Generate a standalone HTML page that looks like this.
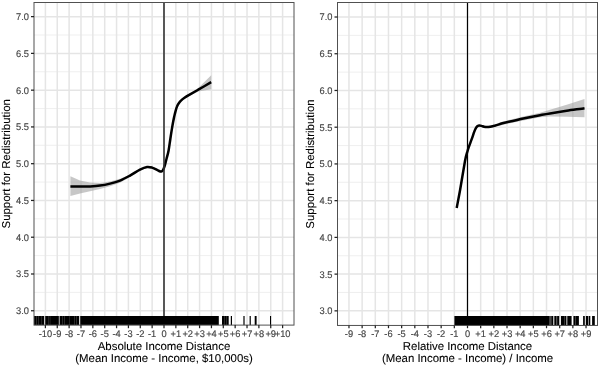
<!DOCTYPE html><html><head><meta charset="utf-8"><title>Income distance</title><style>html,body{margin:0;padding:0;background:#fff}svg{display:block}text{text-rendering:geometricPrecision}</style></head><body><svg width="600" height="367" viewBox="0 0 600 367" font-family="'Liberation Sans', Arial, sans-serif">
<rect width="600" height="367" fill="#fff"/>
<line x1="34.0" x2="294.0" y1="292.37" y2="292.37" stroke="#ebebeb" stroke-width="0.8"/>
<line x1="34.0" x2="294.0" y1="255.60" y2="255.60" stroke="#ebebeb" stroke-width="0.8"/>
<line x1="34.0" x2="294.0" y1="218.84" y2="218.84" stroke="#ebebeb" stroke-width="0.8"/>
<line x1="34.0" x2="294.0" y1="182.07" y2="182.07" stroke="#ebebeb" stroke-width="0.8"/>
<line x1="34.0" x2="294.0" y1="145.31" y2="145.31" stroke="#ebebeb" stroke-width="0.8"/>
<line x1="34.0" x2="294.0" y1="108.54" y2="108.54" stroke="#ebebeb" stroke-width="0.8"/>
<line x1="34.0" x2="294.0" y1="71.78" y2="71.78" stroke="#ebebeb" stroke-width="0.8"/>
<line x1="34.0" x2="294.0" y1="35.01" y2="35.01" stroke="#ebebeb" stroke-width="0.8"/>
<line x1="34.0" x2="294.0" y1="310.75" y2="310.75" stroke="#e5e5e5" stroke-width="1.5"/>
<line x1="34.0" x2="294.0" y1="273.99" y2="273.99" stroke="#e5e5e5" stroke-width="1.5"/>
<line x1="34.0" x2="294.0" y1="237.22" y2="237.22" stroke="#e5e5e5" stroke-width="1.5"/>
<line x1="34.0" x2="294.0" y1="200.45" y2="200.45" stroke="#e5e5e5" stroke-width="1.5"/>
<line x1="34.0" x2="294.0" y1="163.69" y2="163.69" stroke="#e5e5e5" stroke-width="1.5"/>
<line x1="34.0" x2="294.0" y1="126.93" y2="126.93" stroke="#e5e5e5" stroke-width="1.5"/>
<line x1="34.0" x2="294.0" y1="90.16" y2="90.16" stroke="#e5e5e5" stroke-width="1.5"/>
<line x1="34.0" x2="294.0" y1="53.39" y2="53.39" stroke="#e5e5e5" stroke-width="1.5"/>
<line x1="34.0" x2="294.0" y1="16.63" y2="16.63" stroke="#e5e5e5" stroke-width="1.5"/>
<line x1="45.40" x2="45.40" y1="2.5" y2="325.1" stroke="#e5e5e5" stroke-width="1.5"/>
<line x1="57.26" x2="57.26" y1="2.5" y2="325.1" stroke="#e5e5e5" stroke-width="1.5"/>
<line x1="69.12" x2="69.12" y1="2.5" y2="325.1" stroke="#e5e5e5" stroke-width="1.5"/>
<line x1="80.98" x2="80.98" y1="2.5" y2="325.1" stroke="#e5e5e5" stroke-width="1.5"/>
<line x1="92.84" x2="92.84" y1="2.5" y2="325.1" stroke="#e5e5e5" stroke-width="1.5"/>
<line x1="104.70" x2="104.70" y1="2.5" y2="325.1" stroke="#e5e5e5" stroke-width="1.5"/>
<line x1="116.56" x2="116.56" y1="2.5" y2="325.1" stroke="#e5e5e5" stroke-width="1.5"/>
<line x1="128.42" x2="128.42" y1="2.5" y2="325.1" stroke="#e5e5e5" stroke-width="1.5"/>
<line x1="140.28" x2="140.28" y1="2.5" y2="325.1" stroke="#e5e5e5" stroke-width="1.5"/>
<line x1="152.14" x2="152.14" y1="2.5" y2="325.1" stroke="#e5e5e5" stroke-width="1.5"/>
<line x1="164.00" x2="164.00" y1="2.5" y2="325.1" stroke="#e5e5e5" stroke-width="1.5"/>
<line x1="175.86" x2="175.86" y1="2.5" y2="325.1" stroke="#e5e5e5" stroke-width="1.5"/>
<line x1="187.72" x2="187.72" y1="2.5" y2="325.1" stroke="#e5e5e5" stroke-width="1.5"/>
<line x1="199.58" x2="199.58" y1="2.5" y2="325.1" stroke="#e5e5e5" stroke-width="1.5"/>
<line x1="211.44" x2="211.44" y1="2.5" y2="325.1" stroke="#e5e5e5" stroke-width="1.5"/>
<line x1="223.30" x2="223.30" y1="2.5" y2="325.1" stroke="#e5e5e5" stroke-width="1.5"/>
<line x1="235.16" x2="235.16" y1="2.5" y2="325.1" stroke="#e5e5e5" stroke-width="1.5"/>
<line x1="247.02" x2="247.02" y1="2.5" y2="325.1" stroke="#e5e5e5" stroke-width="1.5"/>
<line x1="258.88" x2="258.88" y1="2.5" y2="325.1" stroke="#e5e5e5" stroke-width="1.5"/>
<line x1="270.74" x2="270.74" y1="2.5" y2="325.1" stroke="#e5e5e5" stroke-width="1.5"/>
<line x1="282.60" x2="282.60" y1="2.5" y2="325.1" stroke="#e5e5e5" stroke-width="1.5"/>
<path d="M70.4,176.2 L80.0,180.4 L90.0,182.5 L100.0,182.9 L110.0,181.5 L120.0,178.8 L130.0,174.4 L140.0,168.6 L147.0,166.0 L152.0,166.6 L157.0,168.8 L159.5,170.2 L161.2,170.6 L162.8,169.4 L164.6,165.2 L166.6,157.5 L168.6,149.5 L170.4,137.5 L172.2,126.1 L174.0,116.6 L175.5,110.3 L177.0,105.6 L178.8,102.2 L181.2,99.4 L184.5,96.8 L188.3,94.4 L198.3,88.0 L211.2,75.3 L211.2,89.2 L198.3,91.4 L188.3,96.4 L184.5,98.8 L181.2,101.4 L178.8,104.2 L177.0,107.6 L175.5,112.3 L174.0,118.6 L172.2,128.1 L170.4,139.5 L168.6,151.5 L166.6,159.5 L164.6,167.2 L162.8,171.4 L161.2,172.6 L159.5,172.2 L157.0,170.8 L152.0,168.6 L147.0,168.0 L140.0,170.6 L130.0,176.9 L120.0,182.7 L110.0,186.2 L100.0,189.0 L90.0,191.3 L80.0,193.4 L70.4,196.0 Z" fill="#999" fill-opacity="0.55"/>
<path d="M70.4,186.4C72.0,186.4 76.7,186.6 80.0,186.6C83.3,186.6 86.7,186.7 90.0,186.5C93.3,186.3 96.7,186.1 100.0,185.6C103.3,185.1 106.7,184.4 110.0,183.6C113.3,182.8 116.7,181.9 120.0,180.6C123.3,179.3 126.7,177.4 130.0,175.6C133.3,173.8 137.2,171.0 140.0,169.6C142.8,168.2 145.0,167.3 147.0,167.0C149.0,166.7 150.3,167.1 152.0,167.6C153.7,168.1 155.8,169.2 157.0,169.8C158.2,170.4 158.8,170.9 159.5,171.2C160.2,171.5 160.6,171.7 161.2,171.6C161.8,171.5 162.2,171.3 162.8,170.4C163.4,169.5 164.0,168.2 164.6,166.2C165.2,164.2 165.9,161.1 166.6,158.5C167.3,155.9 168.0,153.8 168.6,150.5C169.2,147.2 169.8,142.4 170.4,138.5C171.0,134.6 171.6,130.6 172.2,127.1C172.8,123.6 173.4,120.2 174.0,117.6C174.6,115.0 175.0,113.1 175.5,111.3C176.0,109.5 176.4,107.9 177.0,106.6C177.6,105.2 178.1,104.2 178.8,103.2C179.5,102.2 180.2,101.3 181.2,100.4C182.1,99.5 183.3,98.6 184.5,97.8C185.7,97.0 186.0,96.8 188.3,95.4C190.6,94.1 194.5,91.9 198.3,89.7C202.1,87.5 209.0,83.5 211.2,82.2" fill="none" stroke="#000" stroke-width="2.5" stroke-linecap="butt" stroke-linejoin="round"/>
<line x1="164.00" x2="164.00" y1="2.5" y2="325.1" stroke="#333" stroke-width="1.6"/>
<rect x="34.00" y="316.0" width="184.80" height="9.10" fill="#000"/>
<rect x="222.00" y="316.0" width="6.70" height="9.10" fill="#000"/>
<rect x="224.00" y="316.0" width="0.50" height="9.10" fill="#555"/>
<rect x="226.50" y="316.0" width="0.50" height="9.10" fill="#555"/>
<rect x="230.80" y="316.0" width="1.20" height="9.10" fill="#000"/>
<rect x="243.40" y="316.0" width="1.20" height="9.10" fill="#000"/>
<rect x="249.60" y="316.0" width="1.20" height="9.10" fill="#000"/>
<rect x="254.70" y="316.0" width="1.90" height="9.10" fill="#000"/>
<rect x="270.00" y="316.0" width="1.10" height="9.10" fill="#000"/>
<rect x="44.20" y="316.0" width="1.00" height="9.10" fill="#eee"/>
<rect x="58.80" y="316.0" width="0.90" height="9.10" fill="#ccc"/>
<rect x="79.20" y="316.0" width="1.00" height="9.10" fill="#fff"/>
<rect x="36.50" y="316.0" width="0.50" height="9.10" fill="#555"/>
<rect x="38.10" y="316.0" width="0.50" height="9.10" fill="#555"/>
<rect x="41.10" y="316.0" width="0.50" height="9.10" fill="#444"/>
<rect x="48.10" y="316.0" width="0.50" height="9.10" fill="#444"/>
<rect x="49.80" y="316.0" width="0.50" height="9.10" fill="#444"/>
<rect x="62.30" y="316.0" width="0.50" height="9.10" fill="#555"/>
<rect x="64.00" y="316.0" width="0.50" height="9.10" fill="#555"/>
<rect x="69.00" y="316.0" width="0.50" height="9.10" fill="#444"/>
<rect x="74.50" y="316.0" width="0.50" height="9.10" fill="#555"/>
<rect x="76.50" y="316.0" width="0.50" height="9.10" fill="#555"/>
<rect x="34.0" y="2.5" width="260.0" height="322.6" fill="none" stroke="#505050" stroke-width="1.0"/>
<line x1="31.00" x2="34.00" y1="310.75" y2="310.75" stroke="#222" stroke-width="1.25"/>
<text transform="translate(28.90,314.15) scale(1,1.04)" font-size="9.3" fill="#444" stroke="#444" stroke-width="0.15" text-anchor="end">3.0</text>
<line x1="31.00" x2="34.00" y1="273.99" y2="273.99" stroke="#222" stroke-width="1.25"/>
<text transform="translate(28.90,277.38) scale(1,1.04)" font-size="9.3" fill="#444" stroke="#444" stroke-width="0.15" text-anchor="end">3.5</text>
<line x1="31.00" x2="34.00" y1="237.22" y2="237.22" stroke="#222" stroke-width="1.25"/>
<text transform="translate(28.90,240.62) scale(1,1.04)" font-size="9.3" fill="#444" stroke="#444" stroke-width="0.15" text-anchor="end">4.0</text>
<line x1="31.00" x2="34.00" y1="200.45" y2="200.45" stroke="#222" stroke-width="1.25"/>
<text transform="translate(28.90,203.85) scale(1,1.04)" font-size="9.3" fill="#444" stroke="#444" stroke-width="0.15" text-anchor="end">4.5</text>
<line x1="31.00" x2="34.00" y1="163.69" y2="163.69" stroke="#222" stroke-width="1.25"/>
<text transform="translate(28.90,167.09) scale(1,1.04)" font-size="9.3" fill="#444" stroke="#444" stroke-width="0.15" text-anchor="end">5.0</text>
<line x1="31.00" x2="34.00" y1="126.93" y2="126.93" stroke="#222" stroke-width="1.25"/>
<text transform="translate(28.90,130.33) scale(1,1.04)" font-size="9.3" fill="#444" stroke="#444" stroke-width="0.15" text-anchor="end">5.5</text>
<line x1="31.00" x2="34.00" y1="90.16" y2="90.16" stroke="#222" stroke-width="1.25"/>
<text transform="translate(28.90,93.56) scale(1,1.04)" font-size="9.3" fill="#444" stroke="#444" stroke-width="0.15" text-anchor="end">6.0</text>
<line x1="31.00" x2="34.00" y1="53.39" y2="53.39" stroke="#222" stroke-width="1.25"/>
<text transform="translate(28.90,56.79) scale(1,1.04)" font-size="9.3" fill="#444" stroke="#444" stroke-width="0.15" text-anchor="end">6.5</text>
<line x1="31.00" x2="34.00" y1="16.63" y2="16.63" stroke="#222" stroke-width="1.25"/>
<text transform="translate(28.90,20.03) scale(1,1.04)" font-size="9.3" fill="#444" stroke="#444" stroke-width="0.15" text-anchor="end">7.0</text>
<line x1="45.40" x2="45.40" y1="325.1" y2="328.2" stroke="#222" stroke-width="1.25"/>
<text transform="translate(45.40,337.4) scale(1,1.03)" font-size="9.3" fill="#444" stroke="#444" stroke-width="0.15" text-anchor="middle">-10</text>
<line x1="57.26" x2="57.26" y1="325.1" y2="328.2" stroke="#222" stroke-width="1.25"/>
<text transform="translate(57.26,337.4) scale(1,1.03)" font-size="9.3" fill="#444" stroke="#444" stroke-width="0.15" text-anchor="middle">-9</text>
<line x1="69.12" x2="69.12" y1="325.1" y2="328.2" stroke="#222" stroke-width="1.25"/>
<text transform="translate(69.12,337.4) scale(1,1.03)" font-size="9.3" fill="#444" stroke="#444" stroke-width="0.15" text-anchor="middle">-8</text>
<line x1="80.98" x2="80.98" y1="325.1" y2="328.2" stroke="#222" stroke-width="1.25"/>
<text transform="translate(80.98,337.4) scale(1,1.03)" font-size="9.3" fill="#444" stroke="#444" stroke-width="0.15" text-anchor="middle">-7</text>
<line x1="92.84" x2="92.84" y1="325.1" y2="328.2" stroke="#222" stroke-width="1.25"/>
<text transform="translate(92.84,337.4) scale(1,1.03)" font-size="9.3" fill="#444" stroke="#444" stroke-width="0.15" text-anchor="middle">-6</text>
<line x1="104.70" x2="104.70" y1="325.1" y2="328.2" stroke="#222" stroke-width="1.25"/>
<text transform="translate(104.70,337.4) scale(1,1.03)" font-size="9.3" fill="#444" stroke="#444" stroke-width="0.15" text-anchor="middle">-5</text>
<line x1="116.56" x2="116.56" y1="325.1" y2="328.2" stroke="#222" stroke-width="1.25"/>
<text transform="translate(116.56,337.4) scale(1,1.03)" font-size="9.3" fill="#444" stroke="#444" stroke-width="0.15" text-anchor="middle">-4</text>
<line x1="128.42" x2="128.42" y1="325.1" y2="328.2" stroke="#222" stroke-width="1.25"/>
<text transform="translate(128.42,337.4) scale(1,1.03)" font-size="9.3" fill="#444" stroke="#444" stroke-width="0.15" text-anchor="middle">-3</text>
<line x1="140.28" x2="140.28" y1="325.1" y2="328.2" stroke="#222" stroke-width="1.25"/>
<text transform="translate(140.28,337.4) scale(1,1.03)" font-size="9.3" fill="#444" stroke="#444" stroke-width="0.15" text-anchor="middle">-2</text>
<line x1="152.14" x2="152.14" y1="325.1" y2="328.2" stroke="#222" stroke-width="1.25"/>
<text transform="translate(152.14,337.4) scale(1,1.03)" font-size="9.3" fill="#444" stroke="#444" stroke-width="0.15" text-anchor="middle">-1</text>
<line x1="164.00" x2="164.00" y1="325.1" y2="328.2" stroke="#222" stroke-width="1.25"/>
<text transform="translate(164.00,337.4) scale(1,1.03)" font-size="9.3" fill="#444" stroke="#444" stroke-width="0.15" text-anchor="middle">0</text>
<line x1="175.86" x2="175.86" y1="325.1" y2="328.2" stroke="#222" stroke-width="1.25"/>
<text transform="translate(175.86,337.4) scale(1,1.03)" font-size="9.3" fill="#444" stroke="#444" stroke-width="0.15" text-anchor="middle">+1</text>
<line x1="187.72" x2="187.72" y1="325.1" y2="328.2" stroke="#222" stroke-width="1.25"/>
<text transform="translate(187.72,337.4) scale(1,1.03)" font-size="9.3" fill="#444" stroke="#444" stroke-width="0.15" text-anchor="middle">+2</text>
<line x1="199.58" x2="199.58" y1="325.1" y2="328.2" stroke="#222" stroke-width="1.25"/>
<text transform="translate(199.58,337.4) scale(1,1.03)" font-size="9.3" fill="#444" stroke="#444" stroke-width="0.15" text-anchor="middle">+3</text>
<line x1="211.44" x2="211.44" y1="325.1" y2="328.2" stroke="#222" stroke-width="1.25"/>
<text transform="translate(211.44,337.4) scale(1,1.03)" font-size="9.3" fill="#444" stroke="#444" stroke-width="0.15" text-anchor="middle">+4</text>
<line x1="223.30" x2="223.30" y1="325.1" y2="328.2" stroke="#222" stroke-width="1.25"/>
<text transform="translate(223.30,337.4) scale(1,1.03)" font-size="9.3" fill="#444" stroke="#444" stroke-width="0.15" text-anchor="middle">+5</text>
<line x1="235.16" x2="235.16" y1="325.1" y2="328.2" stroke="#222" stroke-width="1.25"/>
<text transform="translate(235.16,337.4) scale(1,1.03)" font-size="9.3" fill="#444" stroke="#444" stroke-width="0.15" text-anchor="middle">+6</text>
<line x1="247.02" x2="247.02" y1="325.1" y2="328.2" stroke="#222" stroke-width="1.25"/>
<text transform="translate(247.02,337.4) scale(1,1.03)" font-size="9.3" fill="#444" stroke="#444" stroke-width="0.15" text-anchor="middle">+7</text>
<line x1="258.88" x2="258.88" y1="325.1" y2="328.2" stroke="#222" stroke-width="1.25"/>
<text transform="translate(258.88,337.4) scale(1,1.03)" font-size="9.3" fill="#444" stroke="#444" stroke-width="0.15" text-anchor="middle">+8</text>
<line x1="270.74" x2="270.74" y1="325.1" y2="328.2" stroke="#222" stroke-width="1.25"/>
<text transform="translate(270.74,337.4) scale(1,1.03)" font-size="9.3" fill="#444" stroke="#444" stroke-width="0.15" text-anchor="middle">+9</text>
<line x1="282.60" x2="282.60" y1="325.1" y2="328.2" stroke="#222" stroke-width="1.25"/>
<text transform="translate(282.60,337.4) scale(1,1.03)" font-size="9.3" fill="#444" stroke="#444" stroke-width="0.15" text-anchor="middle">+10</text>
<text x="164.00" y="350.0" font-size="11.42" fill="#000" stroke="#000" stroke-width="0.08" text-anchor="middle">Absolute Income Distance</text>
<text x="164.00" y="362.35" font-size="11.42" fill="#000" stroke="#000" stroke-width="0.08" text-anchor="middle">(Mean Income - Income, $10,000s)</text>
<text transform="translate(10.20,163.80) rotate(-90)" font-size="11.42" fill="#000" stroke="#000" stroke-width="0.08" text-anchor="middle">Support for Redistribution</text>
<line x1="337.5" x2="597.5" y1="292.49" y2="292.49" stroke="#ebebeb" stroke-width="0.8"/>
<line x1="337.5" x2="597.5" y1="255.76" y2="255.76" stroke="#ebebeb" stroke-width="0.8"/>
<line x1="337.5" x2="597.5" y1="219.03" y2="219.03" stroke="#ebebeb" stroke-width="0.8"/>
<line x1="337.5" x2="597.5" y1="182.30" y2="182.30" stroke="#ebebeb" stroke-width="0.8"/>
<line x1="337.5" x2="597.5" y1="145.57" y2="145.57" stroke="#ebebeb" stroke-width="0.8"/>
<line x1="337.5" x2="597.5" y1="108.84" y2="108.84" stroke="#ebebeb" stroke-width="0.8"/>
<line x1="337.5" x2="597.5" y1="72.11" y2="72.11" stroke="#ebebeb" stroke-width="0.8"/>
<line x1="337.5" x2="597.5" y1="35.38" y2="35.38" stroke="#ebebeb" stroke-width="0.8"/>
<line x1="337.5" x2="597.5" y1="310.85" y2="310.85" stroke="#e5e5e5" stroke-width="1.5"/>
<line x1="337.5" x2="597.5" y1="274.12" y2="274.12" stroke="#e5e5e5" stroke-width="1.5"/>
<line x1="337.5" x2="597.5" y1="237.39" y2="237.39" stroke="#e5e5e5" stroke-width="1.5"/>
<line x1="337.5" x2="597.5" y1="200.66" y2="200.66" stroke="#e5e5e5" stroke-width="1.5"/>
<line x1="337.5" x2="597.5" y1="163.93" y2="163.93" stroke="#e5e5e5" stroke-width="1.5"/>
<line x1="337.5" x2="597.5" y1="127.20" y2="127.20" stroke="#e5e5e5" stroke-width="1.5"/>
<line x1="337.5" x2="597.5" y1="90.47" y2="90.47" stroke="#e5e5e5" stroke-width="1.5"/>
<line x1="337.5" x2="597.5" y1="53.74" y2="53.74" stroke="#e5e5e5" stroke-width="1.5"/>
<line x1="337.5" x2="597.5" y1="17.01" y2="17.01" stroke="#e5e5e5" stroke-width="1.5"/>
<line x1="348.97" x2="348.97" y1="2.5" y2="325.45" stroke="#e5e5e5" stroke-width="1.5"/>
<line x1="362.14" x2="362.14" y1="2.5" y2="325.45" stroke="#e5e5e5" stroke-width="1.5"/>
<line x1="375.31" x2="375.31" y1="2.5" y2="325.45" stroke="#e5e5e5" stroke-width="1.5"/>
<line x1="388.48" x2="388.48" y1="2.5" y2="325.45" stroke="#e5e5e5" stroke-width="1.5"/>
<line x1="401.65" x2="401.65" y1="2.5" y2="325.45" stroke="#e5e5e5" stroke-width="1.5"/>
<line x1="414.82" x2="414.82" y1="2.5" y2="325.45" stroke="#e5e5e5" stroke-width="1.5"/>
<line x1="427.99" x2="427.99" y1="2.5" y2="325.45" stroke="#e5e5e5" stroke-width="1.5"/>
<line x1="441.16" x2="441.16" y1="2.5" y2="325.45" stroke="#e5e5e5" stroke-width="1.5"/>
<line x1="454.33" x2="454.33" y1="2.5" y2="325.45" stroke="#e5e5e5" stroke-width="1.5"/>
<line x1="467.50" x2="467.50" y1="2.5" y2="325.45" stroke="#e5e5e5" stroke-width="1.5"/>
<line x1="480.67" x2="480.67" y1="2.5" y2="325.45" stroke="#e5e5e5" stroke-width="1.5"/>
<line x1="493.84" x2="493.84" y1="2.5" y2="325.45" stroke="#e5e5e5" stroke-width="1.5"/>
<line x1="507.01" x2="507.01" y1="2.5" y2="325.45" stroke="#e5e5e5" stroke-width="1.5"/>
<line x1="520.18" x2="520.18" y1="2.5" y2="325.45" stroke="#e5e5e5" stroke-width="1.5"/>
<line x1="533.35" x2="533.35" y1="2.5" y2="325.45" stroke="#e5e5e5" stroke-width="1.5"/>
<line x1="546.52" x2="546.52" y1="2.5" y2="325.45" stroke="#e5e5e5" stroke-width="1.5"/>
<line x1="559.69" x2="559.69" y1="2.5" y2="325.45" stroke="#e5e5e5" stroke-width="1.5"/>
<line x1="572.86" x2="572.86" y1="2.5" y2="325.45" stroke="#e5e5e5" stroke-width="1.5"/>
<line x1="586.03" x2="586.03" y1="2.5" y2="325.45" stroke="#e5e5e5" stroke-width="1.5"/>
<path d="M456.7,207.0 L460.0,189.5 L465.0,160.0 L467.5,150.2 L468.8,146.0 L471.7,138.2 L474.2,130.9 L476.0,126.8 L477.6,125.0 L479.3,124.5 L481.5,124.9 L484.0,125.7 L486.8,126.1 L490.3,125.7 L495.4,124.2 L502.4,121.8 L510.0,119.8 L523.3,116.6 L540.0,112.7 L550.0,109.8 L566.7,104.7 L584.5,99.0 L584.5,117.3 L566.7,116.7 L550.0,116.6 L540.0,117.3 L523.3,120.4 L510.0,123.3 L502.4,124.9 L495.4,126.7 L490.3,127.7 L486.8,128.1 L484.0,127.7 L481.5,126.9 L479.3,126.5 L477.6,127.0 L476.0,128.8 L474.2,132.9 L471.7,140.2 L468.8,148.0 L467.5,152.2 L465.0,162.0 L460.0,191.5 L456.7,209.0 Z" fill="#999" fill-opacity="0.55"/>
<path d="M456.7,208.0C457.2,205.1 458.6,198.3 460.0,190.5C461.4,182.7 463.8,167.6 465.0,161.0C466.2,154.4 466.9,153.5 467.5,151.2C468.1,148.9 468.1,149.0 468.8,147.0C469.5,145.0 470.8,141.7 471.7,139.2C472.6,136.7 473.5,133.8 474.2,131.9C474.9,130.0 475.4,128.8 476.0,127.8C476.6,126.8 477.1,126.4 477.6,126.0C478.2,125.6 478.7,125.5 479.3,125.5C479.9,125.5 480.7,125.7 481.5,125.9C482.3,126.1 483.1,126.5 484.0,126.7C484.9,126.9 485.8,127.1 486.8,127.1C487.9,127.1 488.9,127.0 490.3,126.7C491.7,126.4 493.4,126.0 495.4,125.5C497.4,124.9 500.0,124.0 502.4,123.3C504.8,122.7 506.5,122.3 510.0,121.5C513.5,120.8 518.3,119.6 523.3,118.5C528.3,117.5 535.5,116.1 540.0,115.2C544.5,114.4 545.5,114.2 550.0,113.5C554.5,112.7 561.0,111.6 566.7,110.8C572.5,109.9 581.5,108.7 584.5,108.2" fill="none" stroke="#000" stroke-width="2.5" stroke-linecap="butt" stroke-linejoin="round"/>
<line x1="467.50" x2="467.50" y1="2.5" y2="325.45" stroke="#000" stroke-width="1.2"/>
<rect x="454.40" y="316.0" width="95.10" height="9.45" fill="#000"/>
<rect x="549.50" y="316.0" width="45.30" height="9.45" fill="#000"/>
<rect x="550.40" y="316.0" width="1.00" height="9.45" fill="#777"/>
<rect x="553.30" y="316.0" width="1.00" height="9.45" fill="#fff"/>
<rect x="556.40" y="316.0" width="0.80" height="9.45" fill="#888"/>
<rect x="559.30" y="316.0" width="1.60" height="9.45" fill="#fff"/>
<rect x="564.50" y="316.0" width="0.50" height="9.45" fill="#666"/>
<rect x="566.40" y="316.0" width="0.90" height="9.45" fill="#eee"/>
<rect x="571.60" y="316.0" width="1.80" height="9.45" fill="#fff"/>
<rect x="575.30" y="316.0" width="0.50" height="9.45" fill="#777"/>
<rect x="578.90" y="316.0" width="4.20" height="9.45" fill="#fff"/>
<rect x="584.80" y="316.0" width="1.00" height="9.45" fill="#fff"/>
<rect x="588.00" y="316.0" width="0.70" height="9.45" fill="#ccc"/>
<rect x="590.30" y="316.0" width="1.80" height="9.45" fill="#fff"/>
<rect x="337.5" y="2.5" width="260.0" height="322.95" fill="none" stroke="#505050" stroke-width="1.0"/>
<line x1="334.50" x2="337.50" y1="310.85" y2="310.85" stroke="#222" stroke-width="1.25"/>
<text transform="translate(332.40,314.25) scale(1,1.04)" font-size="9.3" fill="#444" stroke="#444" stroke-width="0.15" text-anchor="end">3.0</text>
<line x1="334.50" x2="337.50" y1="274.12" y2="274.12" stroke="#222" stroke-width="1.25"/>
<text transform="translate(332.40,277.52) scale(1,1.04)" font-size="9.3" fill="#444" stroke="#444" stroke-width="0.15" text-anchor="end">3.5</text>
<line x1="334.50" x2="337.50" y1="237.39" y2="237.39" stroke="#222" stroke-width="1.25"/>
<text transform="translate(332.40,240.79) scale(1,1.04)" font-size="9.3" fill="#444" stroke="#444" stroke-width="0.15" text-anchor="end">4.0</text>
<line x1="334.50" x2="337.50" y1="200.66" y2="200.66" stroke="#222" stroke-width="1.25"/>
<text transform="translate(332.40,204.06) scale(1,1.04)" font-size="9.3" fill="#444" stroke="#444" stroke-width="0.15" text-anchor="end">4.5</text>
<line x1="334.50" x2="337.50" y1="163.93" y2="163.93" stroke="#222" stroke-width="1.25"/>
<text transform="translate(332.40,167.33) scale(1,1.04)" font-size="9.3" fill="#444" stroke="#444" stroke-width="0.15" text-anchor="end">5.0</text>
<line x1="334.50" x2="337.50" y1="127.20" y2="127.20" stroke="#222" stroke-width="1.25"/>
<text transform="translate(332.40,130.60) scale(1,1.04)" font-size="9.3" fill="#444" stroke="#444" stroke-width="0.15" text-anchor="end">5.5</text>
<line x1="334.50" x2="337.50" y1="90.47" y2="90.47" stroke="#222" stroke-width="1.25"/>
<text transform="translate(332.40,93.87) scale(1,1.04)" font-size="9.3" fill="#444" stroke="#444" stroke-width="0.15" text-anchor="end">6.0</text>
<line x1="334.50" x2="337.50" y1="53.74" y2="53.74" stroke="#222" stroke-width="1.25"/>
<text transform="translate(332.40,57.14) scale(1,1.04)" font-size="9.3" fill="#444" stroke="#444" stroke-width="0.15" text-anchor="end">6.5</text>
<line x1="334.50" x2="337.50" y1="17.01" y2="17.01" stroke="#222" stroke-width="1.25"/>
<text transform="translate(332.40,20.41) scale(1,1.04)" font-size="9.3" fill="#444" stroke="#444" stroke-width="0.15" text-anchor="end">7.0</text>
<line x1="348.97" x2="348.97" y1="325.45" y2="328.2" stroke="#222" stroke-width="1.25"/>
<text transform="translate(348.97,337.4) scale(1,1.03)" font-size="9.3" fill="#444" stroke="#444" stroke-width="0.15" text-anchor="middle">-9</text>
<line x1="362.14" x2="362.14" y1="325.45" y2="328.2" stroke="#222" stroke-width="1.25"/>
<text transform="translate(362.14,337.4) scale(1,1.03)" font-size="9.3" fill="#444" stroke="#444" stroke-width="0.15" text-anchor="middle">-8</text>
<line x1="375.31" x2="375.31" y1="325.45" y2="328.2" stroke="#222" stroke-width="1.25"/>
<text transform="translate(375.31,337.4) scale(1,1.03)" font-size="9.3" fill="#444" stroke="#444" stroke-width="0.15" text-anchor="middle">-7</text>
<line x1="388.48" x2="388.48" y1="325.45" y2="328.2" stroke="#222" stroke-width="1.25"/>
<text transform="translate(388.48,337.4) scale(1,1.03)" font-size="9.3" fill="#444" stroke="#444" stroke-width="0.15" text-anchor="middle">-6</text>
<line x1="401.65" x2="401.65" y1="325.45" y2="328.2" stroke="#222" stroke-width="1.25"/>
<text transform="translate(401.65,337.4) scale(1,1.03)" font-size="9.3" fill="#444" stroke="#444" stroke-width="0.15" text-anchor="middle">-5</text>
<line x1="414.82" x2="414.82" y1="325.45" y2="328.2" stroke="#222" stroke-width="1.25"/>
<text transform="translate(414.82,337.4) scale(1,1.03)" font-size="9.3" fill="#444" stroke="#444" stroke-width="0.15" text-anchor="middle">-4</text>
<line x1="427.99" x2="427.99" y1="325.45" y2="328.2" stroke="#222" stroke-width="1.25"/>
<text transform="translate(427.99,337.4) scale(1,1.03)" font-size="9.3" fill="#444" stroke="#444" stroke-width="0.15" text-anchor="middle">-3</text>
<line x1="441.16" x2="441.16" y1="325.45" y2="328.2" stroke="#222" stroke-width="1.25"/>
<text transform="translate(441.16,337.4) scale(1,1.03)" font-size="9.3" fill="#444" stroke="#444" stroke-width="0.15" text-anchor="middle">-2</text>
<line x1="454.33" x2="454.33" y1="325.45" y2="328.2" stroke="#222" stroke-width="1.25"/>
<text transform="translate(454.33,337.4) scale(1,1.03)" font-size="9.3" fill="#444" stroke="#444" stroke-width="0.15" text-anchor="middle">-1</text>
<line x1="467.50" x2="467.50" y1="325.45" y2="328.2" stroke="#222" stroke-width="1.25"/>
<text transform="translate(467.50,337.4) scale(1,1.03)" font-size="9.3" fill="#444" stroke="#444" stroke-width="0.15" text-anchor="middle">0</text>
<line x1="480.67" x2="480.67" y1="325.45" y2="328.2" stroke="#222" stroke-width="1.25"/>
<text transform="translate(480.67,337.4) scale(1,1.03)" font-size="9.3" fill="#444" stroke="#444" stroke-width="0.15" text-anchor="middle">+1</text>
<line x1="493.84" x2="493.84" y1="325.45" y2="328.2" stroke="#222" stroke-width="1.25"/>
<text transform="translate(493.84,337.4) scale(1,1.03)" font-size="9.3" fill="#444" stroke="#444" stroke-width="0.15" text-anchor="middle">+2</text>
<line x1="507.01" x2="507.01" y1="325.45" y2="328.2" stroke="#222" stroke-width="1.25"/>
<text transform="translate(507.01,337.4) scale(1,1.03)" font-size="9.3" fill="#444" stroke="#444" stroke-width="0.15" text-anchor="middle">+3</text>
<line x1="520.18" x2="520.18" y1="325.45" y2="328.2" stroke="#222" stroke-width="1.25"/>
<text transform="translate(520.18,337.4) scale(1,1.03)" font-size="9.3" fill="#444" stroke="#444" stroke-width="0.15" text-anchor="middle">+4</text>
<line x1="533.35" x2="533.35" y1="325.45" y2="328.2" stroke="#222" stroke-width="1.25"/>
<text transform="translate(533.35,337.4) scale(1,1.03)" font-size="9.3" fill="#444" stroke="#444" stroke-width="0.15" text-anchor="middle">+5</text>
<line x1="546.52" x2="546.52" y1="325.45" y2="328.2" stroke="#222" stroke-width="1.25"/>
<text transform="translate(546.52,337.4) scale(1,1.03)" font-size="9.3" fill="#444" stroke="#444" stroke-width="0.15" text-anchor="middle">+6</text>
<line x1="559.69" x2="559.69" y1="325.45" y2="328.2" stroke="#222" stroke-width="1.25"/>
<text transform="translate(559.69,337.4) scale(1,1.03)" font-size="9.3" fill="#444" stroke="#444" stroke-width="0.15" text-anchor="middle">+7</text>
<line x1="572.86" x2="572.86" y1="325.45" y2="328.2" stroke="#222" stroke-width="1.25"/>
<text transform="translate(572.86,337.4) scale(1,1.03)" font-size="9.3" fill="#444" stroke="#444" stroke-width="0.15" text-anchor="middle">+8</text>
<line x1="586.03" x2="586.03" y1="325.45" y2="328.2" stroke="#222" stroke-width="1.25"/>
<text transform="translate(586.03,337.4) scale(1,1.03)" font-size="9.3" fill="#444" stroke="#444" stroke-width="0.15" text-anchor="middle">+9</text>
<text x="467.50" y="350.0" font-size="11.42" fill="#000" stroke="#000" stroke-width="0.08" text-anchor="middle">Relative Income Distance</text>
<text x="467.50" y="362.35" font-size="11.42" fill="#000" stroke="#000" stroke-width="0.08" text-anchor="middle">(Mean Income - Income) / Income</text>
<text transform="translate(313.70,163.97) rotate(-90)" font-size="11.42" fill="#000" stroke="#000" stroke-width="0.08" text-anchor="middle">Support for Redistribution</text>
</svg></body></html>
